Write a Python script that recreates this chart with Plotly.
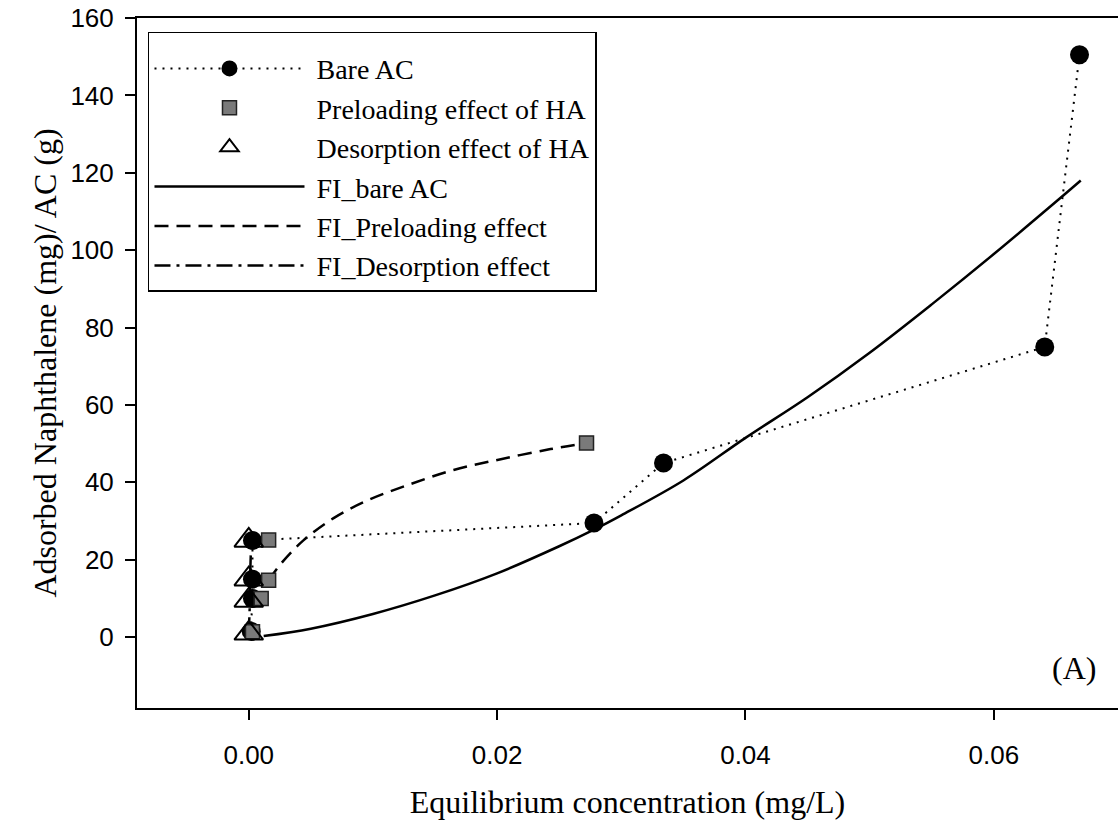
import plotly.graph_objects as go

# ---- data ----
bare_x = [0.0002, 0.0003, 0.0003, 0.0003, 0.0278, 0.0334, 0.0641, 0.0669]
bare_y = [1.5, 10.0, 15.0, 25.0, 29.5, 45.0, 75.0, 150.5]

pre_x = [0.0003, 0.0010, 0.0016, 0.0016, 0.0272]
pre_y = [1.4, 10.0, 14.7, 25.1, 50.2]

des_x = [0.0, 0.0, 0.0, 0.0]
des_y = [1.0, 9.5, 15.0, 25.0]

fit_bare_x = [0.0012, 0.005, 0.010, 0.015, 0.020, 0.025, 0.0278, 0.030, 0.035,
              0.040, 0.045, 0.050, 0.055, 0.060, 0.065, 0.067]
fit_bare_y = [0.3, 2.2, 6.0, 10.8, 16.5, 23.5, 27.8, 31.5, 40.5,
              51.5, 62.0, 73.5, 86.0, 99.0, 112.5, 118.0]

fit_pre_x = [0.0016, 0.0027, 0.0044, 0.0068, 0.0096, 0.0128, 0.0165, 0.0203, 0.0243, 0.0273]
fit_pre_y = [14.7, 19.4, 25.0, 30.7, 35.4, 39.3, 43.2, 46.0, 48.6, 50.2]

fit_des_x = [0.0000, 0.0001, 0.0001, 0.0002]
fit_des_y = [1.0, 9.5, 15.0, 25.0]

x_ticks = [0.00, 0.02, 0.04, 0.06]
y_ticks = [0, 20, 40, 60, 80, 100, 120, 140, 160]

SERIF = "Liberation Serif, Times New Roman, serif"
SANS = "Liberation Sans, Arial, sans-serif"
SP = "\u00a0"

fig = go.Figure()

# fit curves (drawn first, underneath markers)
fig.add_trace(go.Scatter(x=fit_bare_x, y=fit_bare_y, mode="lines", name=SP + "FI_bare AC",
                         line=dict(color="black", width=2.5, shape="spline"),
                         legendrank=4))
fig.add_trace(go.Scatter(x=fit_pre_x, y=fit_pre_y, mode="lines", name=SP + "FI_Preloading effect",
                         line=dict(color="black", width=2.5, dash="14px,8px", shape="spline"),
                         legendrank=5))
fig.add_trace(go.Scatter(x=fit_des_x, y=fit_des_y, mode="lines", name=SP + "FI_Desorption effect",
                         line=dict(color="black", width=2.5, dash="16px,6px,3px,6px"),
                         legendrank=6))

# data series
fig.add_trace(go.Scatter(x=bare_x, y=bare_y, mode="lines+markers", name=SP + "Bare AC",
                         line=dict(color="black", width=2, dash="2px,6px"),
                         marker=dict(symbol="circle", size=19, color="black"),
                         legendrank=1))
fig.add_trace(go.Scatter(x=pre_x, y=pre_y, mode="markers", name=SP + "Preloading effect of HA",
                         marker=dict(symbol="square", size=14, color="#7a7a7a",
                                     line=dict(color="#222222", width=1.5)),
                         legendrank=2))
fig.add_trace(go.Scatter(x=des_x, y=des_y, mode="markers", name=SP + "Desorption effect of HA",
                         marker=dict(symbol="triangle-up-open", size=25, color="black",
                                     line=dict(color="black", width=2)),
                         legendrank=3))

fig.add_annotation(x=0.955, y=0.058, xref="paper", yref="paper", text="(A)",
                   showarrow=False, xanchor="center", yanchor="middle",
                   font=dict(family=SERIF, size=32, color="black"))

fig.update_layout(
    width=1118, height=822,
    margin=dict(l=137, r=0, t=18, b=114),
    paper_bgcolor="white", plot_bgcolor="white",
    showlegend=True,
    legend=dict(x=0.0112, y=0.98, xanchor="left", yanchor="top",
                bgcolor="white", bordercolor="black", borderwidth=1.5,
                font=dict(family=SERIF, size=28, color="black"),
                title=dict(text=SP, font=dict(family=SERIF, size=8)),
                itemwidth=150, traceorder="normal"),
    xaxis=dict(range=[-0.009, 0.070], tickvals=x_ticks, tickformat=".2f",
               showgrid=False, zeroline=False, showline=True, linecolor="black",
               linewidth=2, mirror=True, ticks="outside", ticklen=10, tickwidth=2,
               tickcolor="black", ticklabelstandoff=13,
               tickfont=dict(family=SANS, size=26, color="black"),
               title=dict(text="Equilibrium concentration (mg/L)", standoff=21,
                          font=dict(family=SERIF, size=32, color="black"))),
    yaxis=dict(range=[-18.3, 160], tickvals=y_ticks,
               showgrid=False, zeroline=False, showline=True, linecolor="black",
               linewidth=2, mirror=False, ticks="outside", ticklen=10, tickwidth=2,
               tickcolor="black", ticklabelstandoff=6,
               tickfont=dict(family=SANS, size=26, color="black"),
               title=dict(text="Adsorbed Naphthalene (mg)/ AC (g)", standoff=4,
                          font=dict(family=SERIF, size=32, color="black"))),
)

fig.write_html("out.html", config={"displayModeBar": False},
               post_script="document.body.style.margin='0';document.body.style.overflow='hidden';")
